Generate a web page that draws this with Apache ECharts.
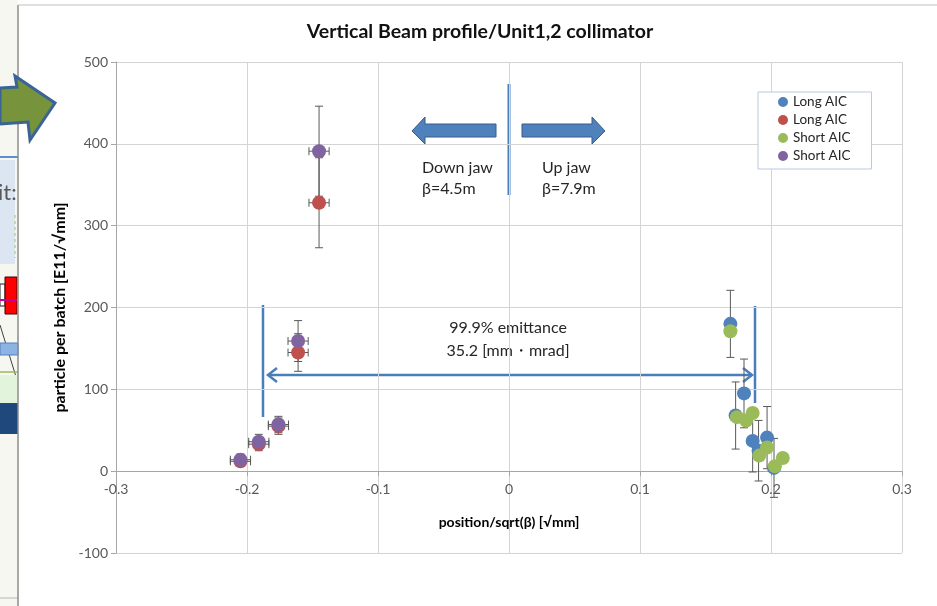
<!DOCTYPE html>
<html><head><meta charset="utf-8">
<script src="https://cdn.jsdelivr.net/npm/echarts@6/dist/echarts.min.js"></script>
<style>html,body{margin:0;padding:0;background:#fff}#c{width:937px;height:606px}</style>
</head><body><div id="c"></div>
<script>
// ---------- data ----------
const chartTitle = 'Vertical Beam profile/Unit1,2 collimator';
const xAxisName = 'position/sqrt(β) [√mm]';
const yAxisName = 'particle per batch [E11/√mm]';
const seriesNames = ['Long AIC', 'Long AIC ', 'Short AIC', 'Short AIC '];
const seriesColors = ['#4f81bd', '#c0504d', '#9bbb59', '#8064a2'];
// [x, y, xErr, yErr]
const longAicBlue = [
  [0.169, 180, 0, 41], [0.1794, 95, 0, 42], [0.173, 68, 0, 41], [0.186, 37, 0, 38],
  [0.1905, 25, 0, 37], [0.197, 41, 0, 38], [0.2023, 4, 0, 36]
];
const longAicRed = [
  [-0.145, 328, 0.0077, 55], [-0.161, 145, 0.0077, 23], [-0.176, 55, 0.0077, 10],
  [-0.191, 33, 0.0077, 8], [-0.205, 12, 0.0077, 6]
];
const shortAicGreen = [
  [0.169, 171, 0, 0], [0.174, 66, 0, 0], [0.181, 62, 0, 0], [0.186, 71, 0, 0],
  [0.191, 19, 0, 0], [0.197, 29, 0, 0], [0.203, 6, 0, 0], [0.209, 16, 0, 0]
];
const shortAicPurple = [
  [-0.145, 391, 0.0077, 55], [-0.161, 159, 0.0077, 25], [-0.176, 57, 0.0077, 10],
  [-0.191, 36, 0.0077, 9], [-0.205, 14, 0.0077, 7]
];
const allSeries = [longAicBlue, longAicRed, shortAicGreen, shortAicPurple];
const yMin = -100, yMax = 500, yStep = 100;
const xMin = -0.3, xMax = 0.3, xStep = 0.1;

const FONT = 'Lato, "Noto Sans", sans-serif';
const GRID = { left: 116, right: 35, top: 62, bottom: 53 };
const gridH = 606 - GRID.top - GRID.bottom;
// move x axis (line, ticks, labels, name) up to y = 0, as the Excel axis crosses there
const xAxisOffset = -(0 - yMin) / (yMax - yMin) * gridH;

function renderErr(params, api) {
  const x = api.value(0), y = api.value(1), ex = api.value(2), ey = api.value(3);
  const st = { stroke: '#595959', lineWidth: 1 };
  const ch = [];
  const c = 4;
  if (ey > 0) {
    const t = api.coord([x, y + ey]), b = api.coord([x, y - ey]);
    ch.push({ type: 'line', shape: { x1: t[0], y1: t[1], x2: b[0], y2: b[1] }, style: st });
    ch.push({ type: 'line', shape: { x1: t[0] - c, y1: t[1], x2: t[0] + c, y2: t[1] }, style: st });
    ch.push({ type: 'line', shape: { x1: b[0] - c, y1: b[1], x2: b[0] + c, y2: b[1] }, style: st });
  }
  if (ex > 0) {
    const l = api.coord([x - ex, y]), r = api.coord([x + ex, y]);
    ch.push({ type: 'line', shape: { x1: l[0], y1: l[1], x2: r[0], y2: r[1] }, style: st });
    ch.push({ type: 'line', shape: { x1: l[0], y1: l[1] - c, x2: l[0], y2: l[1] + c }, style: st });
    ch.push({ type: 'line', shape: { x1: r[0], y1: r[1] - c, x2: r[0], y2: r[1] + c }, style: st });
  }
  return { type: 'group', children: ch };
}

const series = [];
allSeries.forEach((d, i) => {
  series.push({
    type: 'custom', name: seriesNames[i], renderItem: renderErr, data: d,
    encode: { x: 0, y: 1 }, z: 1, silent: true, itemStyle: { color: seriesColors[i] }
  });
});
allSeries.forEach((d, i) => {
  series.push({
    type: 'scatter', name: seriesNames[i], data: d.map(p => [p[0], p[1]]),
    symbol: 'circle', symbolSize: 14, itemStyle: { color: seriesColors[i], opacity: 1 }, z: 3
  });
});

const blue = '#4a7ebb';
const TXT = '#262626';
const graphics = [
  // slide remnants on the left
  { type: 'rect', shape: { x: 0, y: 0, width: 18, height: 606 }, style: { fill: '#f7f7f2' }, z: 0 },
  { type: 'line', shape: { x1: 0, y1: 157, x2: 18, y2: 157 }, style: { stroke: '#5b8fd0', lineWidth: 2 } },
  { type: 'rect', shape: { x: 0, y: 160, width: 15, height: 104 }, style: { fill: '#dce6f2' } },
  { type: 'text', style: { x: -2, y: 193, text: 'it:', fontSize: 22, fontFamily: FONT, fill: '#595959', verticalAlign: 'middle' } },
  { type: 'line', shape: { x1: 15, y1: 215, x2: 15, y2: 258 }, style: { stroke: '#92d050', lineWidth: 1, lineDash: [3, 3] } },
  { type: 'rect', shape: { x: 0, y: 284, width: 5, height: 22 }, style: { fill: '#fff', stroke: '#222', lineWidth: 1 } },
  { type: 'rect', shape: { x: 5, y: 277, width: 12, height: 37 }, style: { fill: '#ff0000', stroke: '#400', lineWidth: 1 } },
  { type: 'line', shape: { x1: 0, y1: 300, x2: 17, y2: 300 }, style: { stroke: '#cc0099', lineWidth: 2 } },
  { type: 'line', shape: { x1: 0, y1: 325, x2: 17, y2: 380 }, style: { stroke: '#404040', lineWidth: 1 } },
  { type: 'rect', shape: { x: 0, y: 343, width: 18, height: 12 }, style: { fill: '#8db3e2', stroke: '#4f81bd', lineWidth: 1 } },
  { type: 'line', shape: { x1: 0, y1: 372, x2: 18, y2: 372 }, style: { stroke: '#9bbb59', lineWidth: 1.5 } },
  { type: 'rect', shape: { x: 0, y: 375, width: 18, height: 28 }, style: { fill: '#e2f5dc' } },
  { type: 'rect', shape: { x: 0, y: 403, width: 18, height: 31 }, style: { fill: '#1f497d' } },
  { type: 'line', shape: { x1: 0, y1: 598, x2: 18, y2: 598 }, style: { stroke: '#d6d6d6', lineWidth: 2 } },
  // chart border
  { type: 'line', shape: { x1: 18, y1: 5, x2: 18, y2: 606 }, style: { stroke: '#8c8c8c', lineWidth: 1.5 } },
  { type: 'line', shape: { x1: 18, y1: 5, x2: 937, y2: 5 }, style: { stroke: '#bfbfbf', lineWidth: 1 } },
  // green arrow
  { type: 'polygon', shape: { points: [[0, 88], [17, 87], [15, 76], [55, 103], [30, 140], [28, 122], [0, 124]] },
    style: { fill: '#77933c', stroke: '#3b6496', lineWidth: 3 } },
  // center divider and jaw arrows
  { type: 'line', shape: { x1: 509, y1: 84, x2: 509, y2: 195 }, style: { stroke: blue, lineWidth: 3 } },
  { type: 'polygon', shape: { points: [[412, 131], [425, 117], [425, 124], [496, 124], [496, 137], [425, 137], [425, 144]] },
    style: { fill: '#4f81bd', stroke: '#385d8a', lineWidth: 1 } },
  { type: 'polygon', shape: { points: [[605, 131], [592, 117], [592, 124], [522, 124], [522, 137], [592, 137], [592, 144]] },
    style: { fill: '#4f81bd', stroke: '#385d8a', lineWidth: 1 } },
  { type: 'text', style: { x: 422, y: 168, text: 'Down jaw', fontSize: 16, fontFamily: FONT, fill: TXT, verticalAlign: 'middle' } },
  { type: 'text', style: { x: 422, y: 189, text: 'β=4.5m', fontSize: 16, fontFamily: FONT, fill: TXT, verticalAlign: 'middle' } },
  { type: 'text', style: { x: 542, y: 168, text: 'Up jaw', fontSize: 16, fontFamily: FONT, fill: TXT, verticalAlign: 'middle' } },
  { type: 'text', style: { x: 542, y: 189, text: 'β=7.9m', fontSize: 16, fontFamily: FONT, fill: TXT, verticalAlign: 'middle' } },
  // emittance markers
  { type: 'line', shape: { x1: 263, y1: 305, x2: 263, y2: 417 }, style: { stroke: blue, lineWidth: 2.5 } },
  { type: 'line', shape: { x1: 755, y1: 306, x2: 755, y2: 403 }, style: { stroke: blue, lineWidth: 2.5 } },
  { type: 'line', shape: { x1: 268, y1: 375, x2: 752, y2: 375 }, style: { stroke: blue, lineWidth: 2.5 } },
  { type: 'polyline', shape: { points: [[277, 368], [268, 375], [277, 382]] }, style: { stroke: blue, lineWidth: 2.5, fill: null } },
  { type: 'polyline', shape: { points: [[743, 368], [752, 375], [743, 382]] }, style: { stroke: blue, lineWidth: 2.5, fill: null } },
  { type: 'text', style: { x: 508, y: 328, text: '99.9% emittance', fontSize: 16, fontFamily: FONT, fill: TXT, align: 'center', verticalAlign: 'middle' } },
  { type: 'text', style: { x: 508, y: 351, text: '35.2 [mm・mrad]', fontSize: 16, fontFamily: FONT, fill: TXT, align: 'center', verticalAlign: 'middle' } }
];

const chart = echarts.init(document.getElementById('c'));
chart.setOption({
  animation: false,
  backgroundColor: '#fff',
  textStyle: { fontFamily: FONT },
  title: {
    text: chartTitle, left: 475, top: 17, textAlign: 'center',
    textStyle: { fontSize: 19.5, fontWeight: 'bold', color: '#111', fontFamily: FONT }
  },
  legend: {
    data: seriesNames, orient: 'vertical', left: 758, top: 92,
    formatter: n => n.trim(),
    icon: 'circle', itemWidth: 10, itemHeight: 10, itemGap: 4,
    padding: [3, 21, 6, 20],
    borderColor: '#b9c9e0', borderWidth: 1, backgroundColor: '#fff',
    textStyle: { fontSize: 13.5, color: TXT, lineHeight: 14, fontFamily: FONT }
  },
  grid: Object.assign({ containLabel: false, outerBoundsMode: 'none' }, GRID),
  xAxis: {
    type: 'value', min: xMin, max: xMax, interval: xStep, position: 'bottom', offset: xAxisOffset,
    name: xAxisName, nameLocation: 'middle', nameGap: 44,
    nameTextStyle: { fontSize: 14, fontWeight: 'bold', color: '#000', fontFamily: FONT },
    axisLine: { onZero: false, lineStyle: { color: '#a6a6a6' } },
    axisTick: { show: true, length: 5, lineStyle: { color: '#a6a6a6' } },
    axisLabel: { fontSize: 14, color: '#595959', margin: 11, fontFamily: FONT },
    splitLine: { show: true, lineStyle: { color: '#d4d4d4' } }
  },
  yAxis: {
    type: 'value', min: yMin, max: yMax, interval: yStep,
    name: yAxisName, nameLocation: 'middle', nameGap: 46,
    nameTextStyle: { fontSize: 16, fontWeight: 'bold', color: '#000', fontFamily: FONT },
    axisLine: { show: true, onZero: false, lineStyle: { color: '#a6a6a6' } },
    axisTick: { show: true, length: 5, lineStyle: { color: '#a6a6a6' } },
    axisLabel: { fontSize: 14, color: '#595959', margin: 8, fontFamily: FONT },
    splitLine: { show: true, lineStyle: { color: '#d4d4d4' } }
  },
  series: series,
  graphic: graphics
});
</script>
</body></html>
